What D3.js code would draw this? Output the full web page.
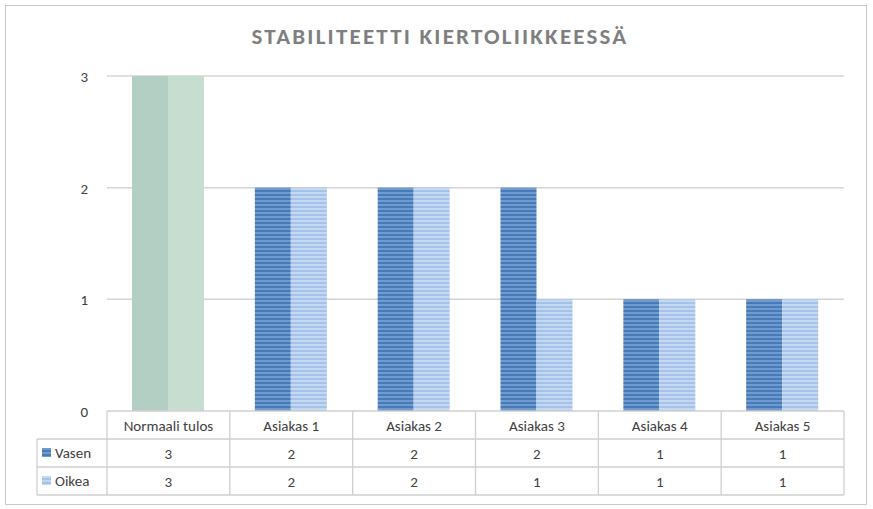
<!DOCTYPE html>
<html><head><meta charset="utf-8">
<script src="https://cdn.jsdelivr.net/npm/d3@7"></script>
<style>body{margin:0;background:#fff}text{font-family:Calibri,Carlito,"Liberation Sans",sans-serif}</style>
</head><body>
<script>
const categories = ["Normaali tulos","Asiakas 1","Asiakas 2","Asiakas 3","Asiakas 4","Asiakas 5"];
const series = ["Vasen","Oikea"];
const vasen = [3,2,2,2,1,1];
const oikea = [3,2,2,1,1,1];
const yTicks = [0,1,2,3];

const W = 873, H = 509;
const svg = d3.select("body").append("svg").attr("width", W).attr("height", H);

// patterns: striped blue for client bars
const defs = svg.append("defs");
function stripe(id, base, line) {
  const p = defs.append("pattern").attr("id", id).attr("patternUnits", "userSpaceOnUse")
    .attr("width", 8).attr("height", 4);
  p.append("rect").attr("width", 8).attr("height", 4).attr("fill", base);
  p.append("rect").attr("width", 8).attr("height", 1.6).attr("y", 2.2).attr("fill", line);
}
stripe("pV", "#6f9bd0", "#3e72b0");
stripe("pO", "#c4d8f2", "#9dbde6");

svg.append("rect").attr("x", 5.5).attr("y", 5.5).attr("width", 861).attr("height", 499)
  .attr("fill", "#fff").attr("stroke", "#c8c8c8");

svg.append("text").attr("x", 440).attr("y", 44).attr("text-anchor", "middle")
  .attr("font-size", 23).attr("font-weight", "bold").attr("letter-spacing", 2.2)
  .attr("fill", "#7f7f7f").text("STABILITEETTI KIERTOLIIKKEESSÄ");

const x0 = d3.scaleBand().domain(categories).range([107, 844]);
const x1 = d3.scaleBand().domain(series).range([25, 97]);
const y = d3.scaleLinear().domain([0, 3]).range([411, 76]);

svg.append("g").selectAll("line").data(yTicks.slice(1)).join("line")
  .attr("x1", 107).attr("x2", 844).attr("y1", d => y(d)).attr("y2", d => y(d))
  .attr("stroke", "#d4d4d4").attr("stroke-width", 1.5);

svg.append("g").selectAll("text").data(yTicks).join("text")
  .attr("x", 88).attr("y", d => y(d) + 6).attr("text-anchor", "end")
  .attr("font-size", 15).attr("fill", "#404040").text(d => d);

const g = svg.append("g").selectAll("g").data(categories).join("g")
  .attr("transform", d => `translate(${x0(d)},0)`);
g.append("rect").attr("x", x1("Vasen")).attr("width", x1.bandwidth())
  .attr("y", (d, i) => y(vasen[i])).attr("height", (d, i) => y(0) - y(vasen[i]))
  .attr("fill", (d, i) => i === 0 ? "#b3cfc3" : "url(#pV)");
g.append("rect").attr("x", x1("Oikea")).attr("width", x1.bandwidth())
  .attr("y", (d, i) => y(oikea[i])).attr("height", (d, i) => y(0) - y(oikea[i]))
  .attr("fill", (d, i) => i === 0 ? "#c6ddd0" : "url(#pO)");

// data table
const rows = [411, 439, 467, 495];
const tbl = svg.append("g").attr("stroke", "#d0d0d0").attr("stroke-width", 1.3);
tbl.append("line").attr("x1", 107).attr("x2", 844).attr("y1", 411).attr("y2", 411);
rows.slice(1).forEach(r => tbl.append("line").attr("x1", 37).attr("x2", 844).attr("y1", r).attr("y2", r));
categories.forEach(c => tbl.append("line").attr("x1", x0(c)).attr("x2", x0(c)).attr("y1", 411).attr("y2", 495));
tbl.append("line").attr("x1", 844).attr("x2", 844).attr("y1", 411).attr("y2", 495);
tbl.append("line").attr("x1", 37).attr("x2", 37).attr("y1", 439).attr("y2", 495);

svg.append("g").selectAll("text").data(categories).join("text")
  .attr("x", d => x0(d) + x0.bandwidth() / 2).attr("y", 431).attr("text-anchor", "middle")
  .attr("font-size", 15).attr("fill", "#404040").text(d => d);

[vasen, oikea].forEach((vals, r) => {
  svg.append("g").selectAll("text").data(vals).join("text")
    .attr("x", (d, i) => x0(categories[i]) + x0.bandwidth() / 2).attr("y", rows[r + 1] + 20)
    .attr("text-anchor", "middle").attr("font-size", 15).attr("fill", "#404040").text(d => d);
  svg.append("rect").attr("x", 42).attr("y", rows[r + 1] + 9).attr("width", 9).attr("height", 9)
    .attr("fill", r === 0 ? "url(#pV)" : "url(#pO)");
  svg.append("text").attr("x", 55).attr("y", rows[r + 1] + 19).attr("font-size", 15)
    .attr("fill", "#404040").text(series[r]);
});
</script>
</body></html>
